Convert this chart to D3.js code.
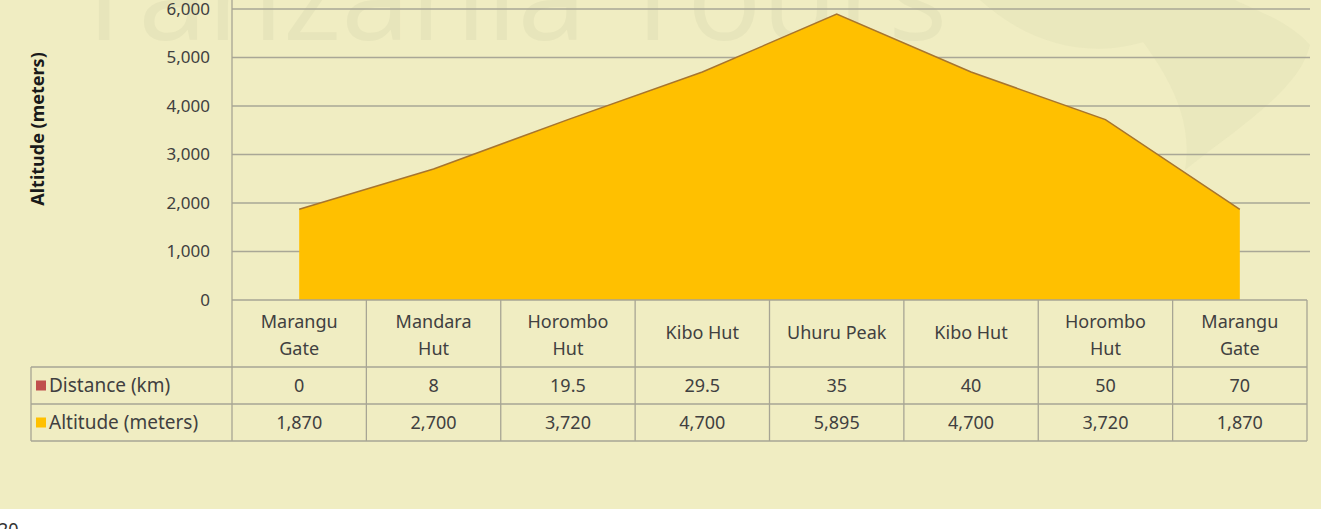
<!DOCTYPE html>
<html>
<head>
<meta charset="utf-8">
<script src="https://cdn.jsdelivr.net/npm/d3@7"></script>
<style>
  html, body { margin: 0; padding: 0; background: #fff; }
  svg { display: block; }
  text { font-family: "Noto Sans", "Open Sans", sans-serif; }
</style>
</head>
<body>
<svg class="chart" width="1321" height="529"></svg>
<script>
let stops = [['Marangu', 'Gate'], ['Mandara', 'Hut'], ['Horombo', 'Hut'], ['Kibo Hut'],
             ['Uhuru Peak'], ['Kibo Hut'], ['Horombo', 'Hut'], ['Marangu', 'Gate']];
let distance = [0, 8, 19.5, 29.5, 35, 40, 50, 70];
let distanceLabels = ['0', '8', '19.5', '29.5', '35', '40', '50', '70'];
let altitude = [1870, 2700, 3720, 4700, 5895, 4700, 3720, 1870];
let yTicks = [0, 1000, 2000, 3000, 4000, 5000, 6000];
let seriesNames = ['Distance (km)', 'Altitude (meters)'];
let seriesColors = ['#c0504d', '#ffc000'];

let chartParams = {
  plotLeft: 232, plotRight: 1307, gridRight: 1310,
  plotTop: 9, plotBottom: 300,
  headerBottom: 367, rowHeight: 37, tableLeft: 31,
  bg: '#f0edc2', grid: '#a9a796', border: '#a7a594', text: '#404040'
};

let svg = d3.select('.chart');
let p = chartParams;

// background panel + white strip below
svg.append('rect').attr('width', 1321).attr('height', 529).attr('fill', '#ffffff');
svg.append('rect').attr('width', 1321).attr('height', 509).attr('fill', p.bg);

// faint watermark
let wm = svg.append('g').attr('class', 'watermark');
wm.append('text')
  .attr('x', 70).attr('y', 40)
  .style('font-family', '"Open Sans", sans-serif')
  .style('font-size', '124px')
  .attr('fill', '#e7e5bb')
  .text('Tanzania Tours');
wm.append('path')
  .attr('d', 'M980,0 C1030,45 1090,60 1150,40 C1190,25 1220,8 1235,0 Z M1110,0 C1160,60 1195,110 1185,170 C1235,130 1300,90 1310,45 C1290,22 1255,10 1235,0 Z')
  .attr('fill', '#e7e5bb')
  .attr('opacity', 0.7);

let x = d3.scaleBand()
  .domain(d3.range(stops.length))
  .range([p.plotLeft, p.plotRight]);

let y = d3.scaleLinear()
  .domain([0, 6000])
  .range([p.plotBottom, p.plotTop]);

let cx = function (i) { return x(i) + x.bandwidth() / 2; };

// gridlines
svg.append('g')
  .selectAll('line')
  .data(yTicks.filter(function (d) { return d > 0; }))
  .join('line')
  .attr('x1', p.plotLeft).attr('x2', p.gridRight)
  .attr('y1', function (d) { return y(d); })
  .attr('y2', function (d) { return y(d); })
  .attr('stroke', p.grid)
  .attr('stroke-width', 1.4);

// y axis
let yAxis = d3.axisLeft(y)
  .tickValues(yTicks)
  .tickFormat(d3.format(','))
  .tickSize(0)
  .tickPadding(22);

let yg = svg.append('g')
  .attr('transform', 'translate(' + p.plotLeft + ',0)')
  .call(yAxis);
yg.select('.domain').remove();
yg.selectAll('text')
  .attr('fill', p.text)
  .style('font-size', '17px')
  .style('font-family', '"Noto Sans", sans-serif');

svg.append('text')
  .attr('transform', 'translate(44,129) rotate(-90)')
  .attr('text-anchor', 'middle')
  .style('font-size', '18px')
  .style('font-weight', 'bold')
  .attr('fill', '#1a1a1a')
  .text('Altitude (meters)');

// altitude area
let area = d3.area()
  .x(function (d, i) { return cx(i); })
  .y0(y(0))
  .y1(function (d) { return y(d); });

let topLine = d3.line()
  .x(function (d, i) { return cx(i); })
  .y(function (d) { return y(d); });

svg.append('path')
  .datum(altitude)
  .attr('d', area)
  .attr('fill', seriesColors[1]);

svg.append('path')
  .datum(altitude)
  .attr('d', topLine)
  .attr('fill', 'none')
  .attr('stroke', '#a7752e')
  .attr('stroke-width', 1.5);

// data table
let table = svg.append('g').attr('class', 'data-table');
let rowTops = [p.headerBottom, p.headerBottom + p.rowHeight];
let tableBottom = p.headerBottom + 2 * p.rowHeight;

// horizontal lines
table.append('line')
  .attr('x1', p.plotLeft).attr('x2', p.plotRight)
  .attr('y1', p.plotBottom).attr('y2', p.plotBottom);
[p.headerBottom, p.headerBottom + p.rowHeight, tableBottom].forEach(function (yy) {
  table.append('line')
    .attr('x1', p.tableLeft).attr('x2', p.plotRight)
    .attr('y1', yy).attr('y2', yy);
});
// vertical lines
table.append('line')
  .attr('x1', p.plotLeft).attr('x2', p.plotLeft)
  .attr('y1', p.plotTop - 9).attr('y2', tableBottom);
table.append('line')
  .attr('x1', p.tableLeft).attr('x2', p.tableLeft)
  .attr('y1', p.headerBottom).attr('y2', tableBottom);
table.selectAll('.col-line')
  .data(d3.range(1, stops.length + 1))
  .join('line')
  .attr('class', 'col-line')
  .attr('x1', function (i) { return p.plotLeft + i * x.bandwidth(); })
  .attr('x2', function (i) { return p.plotLeft + i * x.bandwidth(); })
  .attr('y1', p.plotBottom).attr('y2', tableBottom);
table.selectAll('line')
  .attr('stroke', p.border)
  .attr('stroke-width', 1.3);

// header labels
stops.forEach(function (lines, i) {
  let t = table.append('text')
    .attr('x', cx(i))
    .attr('text-anchor', 'middle')
    .attr('fill', p.text)
    .style('font-size', '18px');
  if (lines.length === 1) {
    t.append('tspan').attr('x', cx(i)).attr('y', 339).text(lines[0]);
  } else {
    t.append('tspan').attr('x', cx(i)).attr('y', 328).text(lines[0]);
    t.append('tspan').attr('x', cx(i)).attr('y', 355).text(lines[1]);
  }
});

// row labels + legend keys
let rows = [distanceLabels, altitude.map(d3.format(','))];
rows.forEach(function (vals, r) {
  let midY = rowTops[r] + p.rowHeight / 2;
  table.append('rect')
    .attr('x', 36).attr('y', midY - 5)
    .attr('width', 10).attr('height', 10)
    .attr('fill', seriesColors[r]);
  table.append('text')
    .attr('x', 49).attr('y', midY + 6)
    .attr('fill', p.text)
    .style('font-size', '19px')
    .text(seriesNames[r]);
  table.selectAll('.val-' + r)
    .data(vals)
    .join('text')
    .attr('class', 'val-' + r)
    .attr('x', function (d, i) { return cx(i); })
    .attr('y', midY + 6)
    .attr('text-anchor', 'middle')
    .attr('fill', p.text)
    .style('font-size', '18px')
    .text(function (d) { return d; });
});

// page number cut off at the bottom
svg.append('text')
  .attr('x', -2).attr('y', 536)
  .attr('fill', '#333')
  .style('font-size', '18px')
  .text('20');
</script>
</body>
</html>
